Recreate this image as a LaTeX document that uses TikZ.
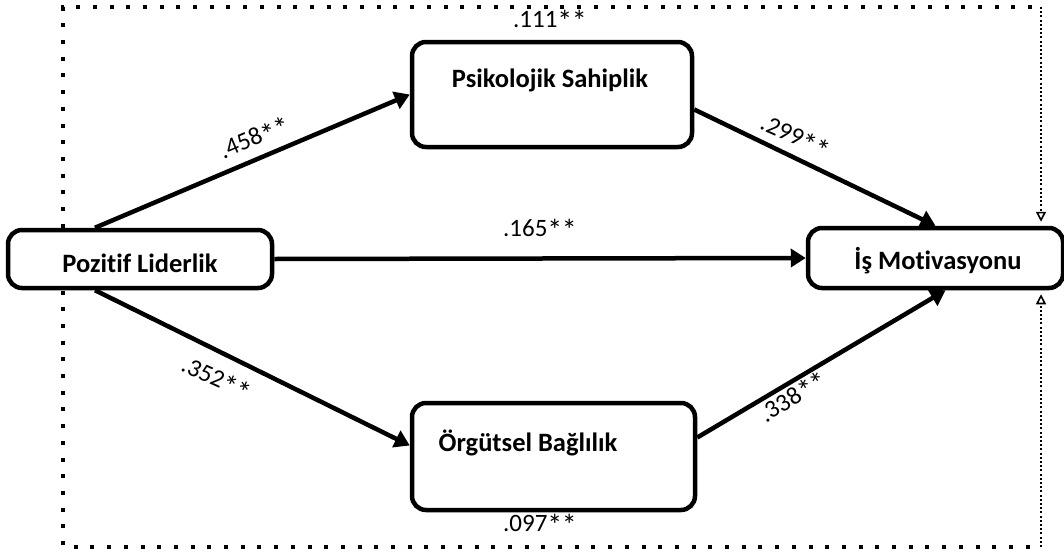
\documentclass[tikz,border=0pt]{standalone}
\usepackage{fontspec}
\setmainfont{Carlito}[Ligatures=NoCommon]
\usetikzlibrary{arrows.meta,calc}

% larger significance stars, set close together
\newcommand{\sigstar}{\raisebox{-4.5pt}{\scalebox{1.2}{*}}}
\newcommand{\sigtwo}{\sigstar\kern-0.5pt\sigstar}

\tikzset{
  box/.style={draw, line width=4.5pt, rounded corners=14pt, fill=white, inner sep=0pt},
  boxtext/.style={font=\fontsize{26.5}{30}\selectfont\bfseries, inner sep=0pt},
  coef/.style={font=\fontsize{25}{30}\selectfont, inner sep=0pt},
  path/.style={line width=4.5pt, -{Triangle[length=15pt,width=18pt]}},
  frame/.style={line width=4pt, dash pattern=on 4pt off 12.7pt},
  fineframe/.style={line width=2pt, dash pattern=on 2pt off 2.2pt},
  opentip/.style={-{Triangle[open,length=10pt,width=10pt,line width=1.6pt]}}
}

\begin{document}
\begin{tikzpicture}[x=1pt,y=-1pt]
\useasboundingbox (0,0) rectangle (1064,554);

% outer dotted frame
\draw[frame] (1032,7) -- (63,7) -- (63,547) -- (1034,547);
\coordinate (ftop) at (1041,7);
\coordinate (fbot) at (1041,547);

% boxes
\node[box, minimum width=264pt, minimum height=58pt] (pl) at (140,259) {};
\node[box, minimum width=280pt, minimum height=105pt] (ps) at (552,94.5) {};
\node[box, minimum width=283pt, minimum height=107pt] (ob) at (553.5,456.5) {};
\node[box, minimum width=255pt, minimum height=60pt] (im) at (935.5,258) {};

% box titles
\node[boxtext] (plt) at (140,263) {Pozitif Liderlik};
\node[boxtext] (pst) at (550,80) {Psikolojik Sahiplik};
\node[boxtext] (obt) at (528,443) {Örgütsel Bağlılık};
\node[boxtext] (imt) at (938,261) {İş Motivasyonu};

% dotted links into the outcome
\draw[fineframe, opentip] (ftop) -- ([yshift=4pt]ftop |- im.north);
\draw[fineframe, opentip] (fbot) -- ([yshift=-4pt]fbot |- im.south);

% paths
\draw[path] ([xshift=-45pt]pl.north) -- (ps.west);
\draw[path] ([yshift=-15pt]ps.east) -- (im.north);
\draw[path] (pl.east) -- (im.west);
\draw[path] ([xshift=-45pt]pl.south) -- ([yshift=11pt]ob.west);
\draw[path] ([yshift=19pt]ob.east) -- ([xshift=10pt]im.south);

% coefficients
\node[coef, rotate=23] (c1) at (255,139) {.458\sigtwo};
\node[coef, rotate=-24] (c2) at (795,138) {.299\sigtwo};
\node[coef] (c3) at (540,230) {.165\sigtwo};
\node[coef, rotate=-24] (c4) at (216,380) {.352\sigtwo};
\node[coef, rotate=33] (c5) at (794,398) {.338\sigtwo};
\node[coef] (c6) at (550,21) {.111\sigtwo};
\node[coef] (c7) at (540,525) {.097\sigtwo};
\end{tikzpicture}
\end{document}
